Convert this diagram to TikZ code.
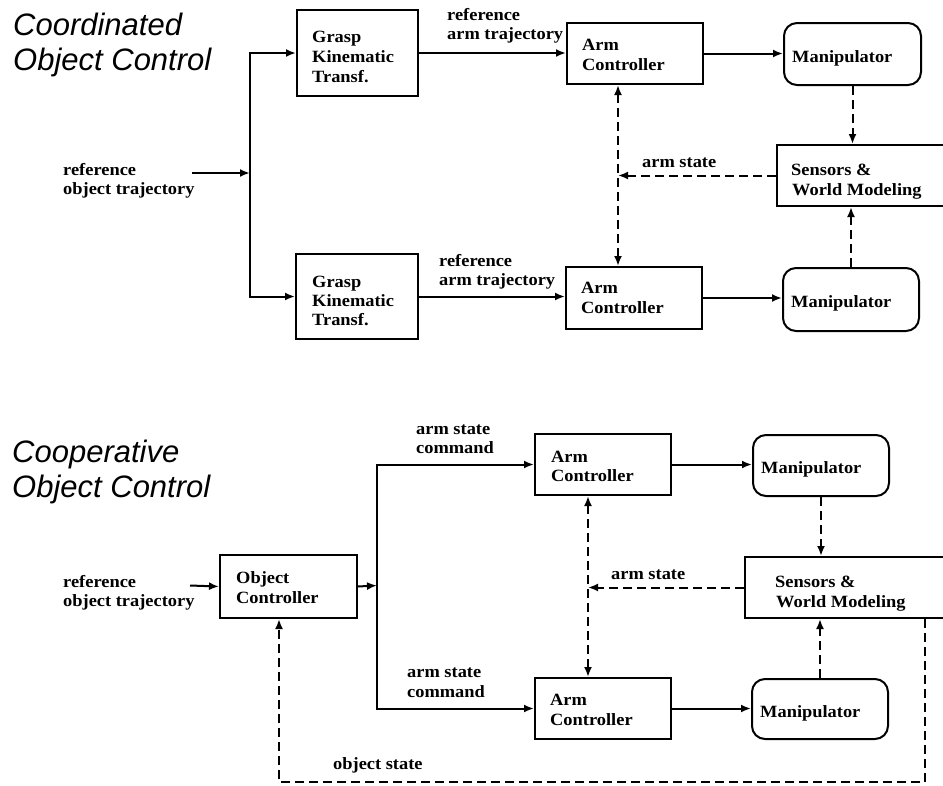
\documentclass[tikz,border=0pt]{standalone}
\usepackage{fontspec}
\setmainfont{Liberation Serif}[FakeStretch=1.07]
\newfontfamily\ttlfont{Liberation Sans}
\usetikzlibrary{arrows.meta}
\begin{document}
\begin{tikzpicture}[x=1pt,y=-1pt,
  blk/.style={draw, line width=2pt, inner sep=0pt, anchor=north west},
  rblk/.style={blk, rounded corners=13pt},
  txt/.style={anchor=base west, inner sep=0pt, font=\fontsize{17.2}{20}\selectfont\bfseries},
  ttl/.style={anchor=base west, inner sep=0pt, font=\fontsize{31}{36}\selectfont\ttlfont\itshape},
  ln/.style={line width=2pt},
  arr/.style={ln, -{Latex[length=10pt,width=8pt]}},
  darr/.style={arr, dash pattern=on 9pt off 5pt},
  ddarr/.style={ln, dash pattern=on 9pt off 5pt, {Latex[length=10pt,width=8pt]}-{Latex[length=10pt,width=8pt]}}]
\clip (0,0) rectangle (943,785);
\fill[white] (0,0) rectangle (943,785);

% ---------- Top: Coordinated ----------
\node[ttl] (T1a) at (13,35) {Coordinated};
\node[ttl] (T1b) at (13,70) {Object Control};

\node[blk, minimum width=121pt, minimum height=86pt] (g1) at (296,9) {};
\node[blk, minimum width=122pt, minimum height=85pt] (g2) at (295,253) {};
\node[blk, minimum width=136pt, minimum height=61pt] (a1) at (566,22) {};
\node[blk, minimum width=136pt, minimum height=62pt] (a2) at (565,266) {};
\node[rblk, minimum width=137pt, minimum height=62pt] (m1) at (783,22) {};
\node[rblk, minimum width=136pt, minimum height=63pt] (m2) at (782,267) {};
\node[blk, minimum width=200pt, minimum height=61pt] (s1) at (776,144) {};

\node[txt] (g1a) at (312,42) {Grasp};
\node[txt] (g1b) at (312,62) {Kinematic};
\node[txt] (g1c) at (312,82) {Transf.};
\node[txt] (g2a) at (312,287) {Grasp};
\node[txt] (g2b) at (312,306) {Kinematic};
\node[txt] (g2c) at (312,325) {Transf.};
\node[txt] (a1a) at (582,50) {Arm};
\node[txt] (a1b) at (582,70) {Controller};
\node[txt] (a2a) at (581,293) {Arm};
\node[txt] (a2b) at (581,313) {Controller};
\node[txt] (m1t) at (792,62) {Manipulator};
\node[txt] (m2t) at (791,307) {Manipulator};
\node[txt] (s1a) at (791,175) {Sensors \&};
\node[txt] (s1b) at (792,195) {World Modeling};

\node[txt] (r1a) at (63,175) {reference};
\node[txt] (r1b) at (63,194) {object trajectory};
\node[txt] (l1a) at (447,20) {reference};
\node[txt] (l1b) at (447,39) {arm trajectory};
\node[txt] (l2a) at (439,266) {reference};
\node[txt] (l2b) at (439,285) {arm trajectory};
\node[txt] (as1) at (642,167) {arm state};

\coordinate (in1) at (192,173);
\coordinate (j1) at (250,173);
\coordinate (v1) at (618,0);
\draw[arr] (in1) -- (j1);
\draw[arr] (j1) |- (g1.west);
\draw[arr] (j1) |- (g2.west);
\draw[arr] (g1.east) -- (g1.east -| a1.west);
\draw[arr] (g2.east) -- (g2.east -| a2.west);
\draw[arr] (a1.east) -- (a1.east -| m1.west);
\draw[arr] (a2.east) -- (a2.east -| m2.west);
\draw[darr] (m1.south) -- (m1.south |- s1.north);
\draw[darr] (m2.north) -- (m2.north |- s1.south);
\draw[darr] (s1.west) -- (s1.west -| v1);
\draw[ddarr] (v1 |- a1.south) -- (v1 |- a2.north);

% ---------- Bottom: Cooperative ----------
\node[ttl] (T2a) at (12,462) {Cooperative};
\node[ttl] (T2b) at (12,497) {Object Control};

\node[blk, minimum width=137pt, minimum height=63pt] (oc) at (219,554) {};
\node[blk, minimum width=136pt, minimum height=61pt] (a3) at (534,433) {};
\node[blk, minimum width=136pt, minimum height=61pt] (a4) at (534,677) {};
\node[rblk, minimum width=136pt, minimum height=61pt] (m3) at (752,434) {};
\node[rblk, minimum width=136pt, minimum height=60pt] (m4) at (751,678) {};
\node[blk, minimum width=220pt, minimum height=61pt] (s2) at (744,556) {};

\node[txt] (oca) at (236,583) {Object};
\node[txt] (ocb) at (236,603) {Controller};
\node[txt] (a3a) at (551,462) {Arm};
\node[txt] (a3b) at (551,481) {Controller};
\node[txt] (a4a) at (550,705) {Arm};
\node[txt] (a4b) at (550,725) {Controller};
\node[txt] (m3t) at (761,473) {Manipulator};
\node[txt] (m4t) at (760,717) {Manipulator};
\node[txt] (s2a) at (775,587) {Sensors \&};
\node[txt] (s2b) at (776,607) {World Modeling};

\node[txt] (r2a) at (63,587) {reference};
\node[txt] (r2b) at (63,606) {object trajectory};
\node[txt] (c1a) at (416,434) {arm state};
\node[txt] (c1b) at (416,453) {command};
\node[txt] (c2a) at (407,677) {arm state};
\node[txt] (c2b) at (407,697) {command};
\node[txt] (as2) at (611,579) {arm state};
\node[txt] (os) at (333,769) {object state};

\coordinate (in2) at (190,585.5);
\coordinate (j2) at (377,585.5);
\coordinate (v2) at (588,0);
\coordinate (ob) at (925,782);
\coordinate (ox) at (279,0);
\draw[arr] (in2) -- (oc.west);
\draw[arr] (oc.east) -- (j2);
\draw[arr] (j2) |- (a3.west);
\draw[arr] (j2) |- (a4.west);
\draw[arr] (a3.east) -- (a3.east -| m3.west);
\draw[arr] (a4.east) -- (a4.east -| m4.west);
\draw[darr] (m3.south) -- (m3.south |- s2.north);
\draw[darr] (m4.north) -- (m4.north |- s2.south);
\draw[darr] (s2.west) -- (s2.west -| v2);
\draw[ddarr] (v2 |- a3.south) -- (v2 |- a4.north);
\draw[darr] (ob |- s2.south) -- (ob) -| (ox |- oc.south);
\end{tikzpicture}
\end{document}
